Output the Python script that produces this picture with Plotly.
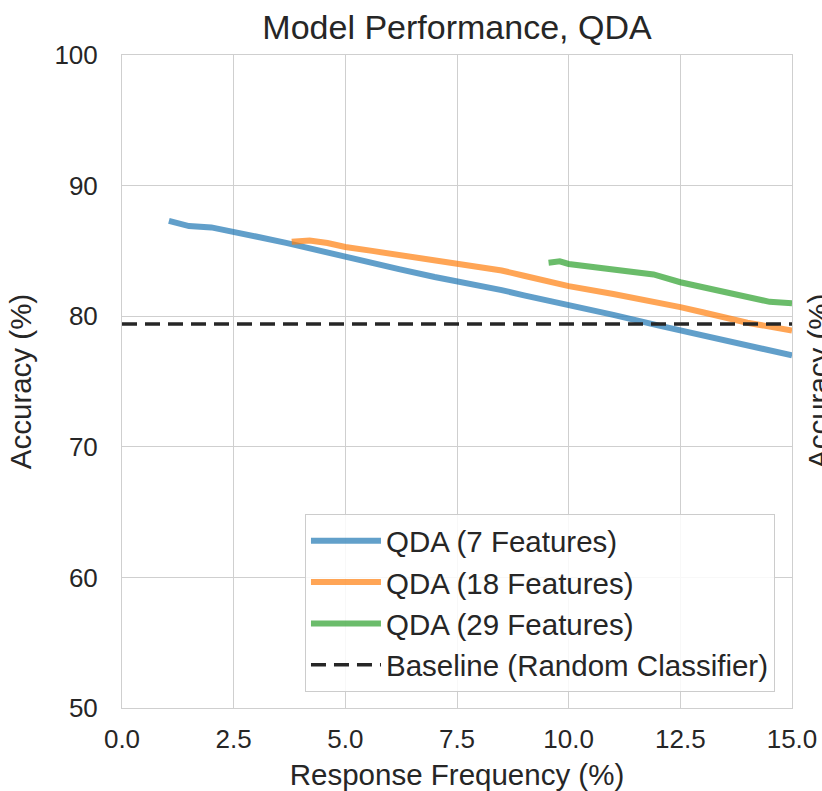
import plotly.graph_objects as go

# Accuracy vs. response frequency for QDA models with different feature sets
freq_7 = [1.05, 1.5, 2.0, 2.5, 3.0, 3.7, 4.3, 5.0, 5.6, 6.2, 7.0, 7.5, 8.0, 8.5, 9.0, 10.0, 11.0, 12.0, 12.5, 13.0, 14.0, 15.0]
acc_7 = [87.3, 86.9, 86.8, 86.5, 86.1, 85.6, 85.1, 84.6, 84.1, 83.6, 83.0, 82.7, 82.35, 82.0, 81.6, 80.9, 80.1, 79.3, 78.9, 78.5, 77.7, 77.0]

freq_18 = [3.8, 4.2, 4.6, 5.0, 5.6, 6.2, 7.0, 7.5, 8.0, 8.5, 9.0, 9.5, 9.8, 10.0, 11.0, 12.0, 12.5, 13.0, 14.0, 15.0]
acc_18 = [85.7, 85.8, 85.6, 85.3, 85.0, 84.7, 84.3, 84.0, 83.8, 83.5, 83.1, 82.7, 82.4, 82.3, 81.7, 81.1, 80.7, 80.3, 79.5, 78.9]

freq_29 = [9.55, 9.8, 10.0, 10.5, 11.0, 11.5, 11.9, 12.5, 13.0, 13.5, 14.0, 14.5, 15.0]
acc_29 = [84.1, 84.2, 84.0, 83.8, 83.5, 83.3, 83.2, 82.6, 82.2, 81.8, 81.4, 81.1, 81.0]

baseline_freq = [0.0, 15.0]
baseline_acc = [79.4, 79.4]

x_ticks = [0.0, 2.5, 5.0, 7.5, 10.0, 12.5, 15.0]
y_ticks = [50, 60, 70, 80, 90, 100]

FONT = "Liberation Sans, Arial, sans-serif"
TEXT = "#262626"
GRID = "#cfcfcf"

fig = go.Figure()
fig.add_trace(go.Scatter(x=freq_7, y=acc_7, mode="lines", name="QDA (7 Features)",
                         line=dict(color="#1f77b4", width=6), opacity=0.7))
fig.add_trace(go.Scatter(x=freq_18, y=acc_18, mode="lines", name="QDA (18 Features)",
                         line=dict(color="#ff7f0e", width=6), opacity=0.7))
fig.add_trace(go.Scatter(x=freq_29, y=acc_29, mode="lines", name="QDA (29 Features)",
                         line=dict(color="#2ca02c", width=6), opacity=0.7))
fig.add_trace(go.Scatter(x=baseline_freq, y=baseline_acc, mode="lines",
                         name="Baseline (Random Classifier)",
                         line=dict(color="#262626", width=3.5, dash="15px,8px")))

fig.update_layout(
    width=822, height=791,
    margin=dict(l=122, r=30, t=55, b=83, autoexpand=False),
    paper_bgcolor="white", plot_bgcolor="white",
    font=dict(family=FONT, color=TEXT, size=26),
    title=dict(text="Model Performance, QDA", x=(122 + 792) / 2 / 822, xanchor="center",
               y=1 - 27 / 791, yanchor="middle", font=dict(size=34, color=TEXT)),
    xaxis=dict(range=[0, 15], tickvals=x_ticks, ticktext=[f"{v:.1f}" for v in x_ticks],
               showgrid=True, gridcolor=GRID, gridwidth=1, zeroline=False,
               showline=True, linecolor=GRID, linewidth=1, mirror=True, automargin=False,
               ticks="", tickfont=dict(size=26), ticklabelstandoff=8,
               title=dict(text="Response Frequency (%)", font=dict(size=29.5), standoff=14)),
    yaxis=dict(range=[50, 100], tickvals=y_ticks,
               showgrid=True, gridcolor=GRID, gridwidth=1, zeroline=False,
               showline=True, linecolor=GRID, linewidth=1, mirror=True, automargin=False,
               ticks="", tickfont=dict(size=26), ticklabelstandoff=18,
               title=dict(text="Accuracy (%)", font=dict(size=29.5), standoff=14)),
    legend=dict(x=0.9746, y=0.0245, xanchor="right", yanchor="bottom",
                bgcolor="rgba(255,255,255,0.85)", bordercolor="#cccccc", borderwidth=1,
                font=dict(size=29.5, color=TEXT), tracegroupgap=0, itemwidth=70),
    showlegend=True,
)

# y-axis title of the neighbouring panel, clipped at the page edge
fig.add_annotation(text="Accuracy (%)", xref="paper", yref="paper",
                   x=(819 - 122) / 670, y=(708 - 382) / 653, xanchor="center", yanchor="middle",
                   textangle=-90, showarrow=False, font=dict(size=29.5, color=TEXT))

fig.write_html("out.html")
